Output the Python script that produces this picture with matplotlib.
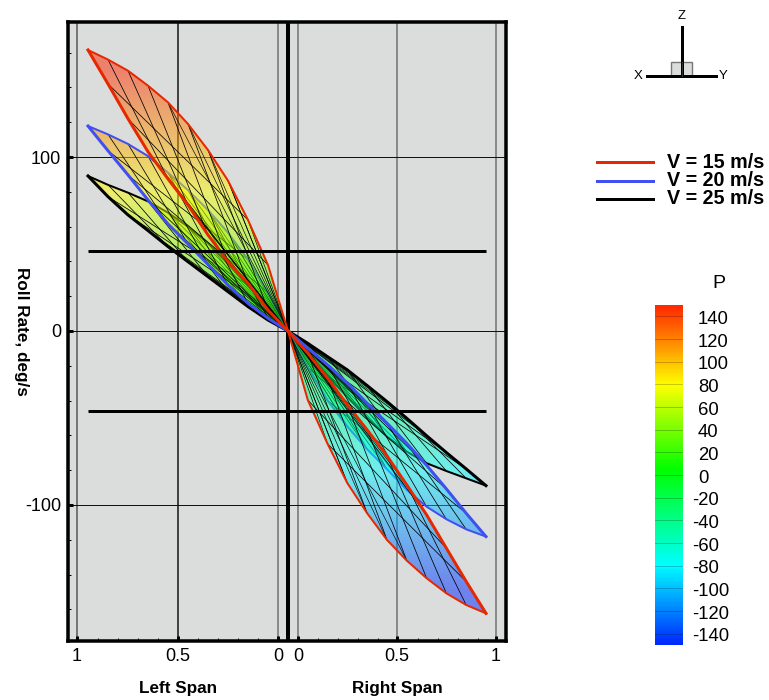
from matplotlib import pyplot as plt
from matplotlib.colors import LinearSegmentedColormap, Normalize
from matplotlib.patches import Polygon, Rectangle
import numpy as np

plt.rcParams['font.family'] = ['Liberation Sans', 'DejaVu Sans']

W, H = 769, 700
PX = 0.72  # one pixel in points at dpi 100

# span stations, outboard to root
left_span = [-1.0, -0.9, -0.8, -0.7, -0.6, -0.5, -0.4, -0.3, -0.2, -0.1, 0.0]
right_span = [0.0, 0.099, 0.198, 0.297, 0.396, 0.495, 0.594, 0.693, 0.792, 0.891, 0.99]

# roll rate along the two edges of each lobe
red_left_outer = [161.5, 156, 149.6, 141, 131.4, 119, 104, 86.4, 63.8, 37.9, 0]
red_left_inner = [161.5, 142, 122, 103, 87.4, 72.4, 55.2, 39.8, 27.4, 12, 0]
blue_left_outer = [117.8, 113, 107.5, 100.5, 91, 81, 69.5, 56.5, 41, 22, 0]
blue_left_inner = [117.8, 103.6, 89.7, 75.3, 61.5, 50, 38.3, 26.4, 15.9, 7.3, 0]
black_left_outer = [89.1, 84, 79.5, 74.5, 68, 60, 50.5, 39, 26.5, 13.5, 0]
black_left_inner = [89.1, 77.2, 66.7, 57.7, 48.5, 39.8, 31.2, 22.6, 14, 6.3, 0]

red_right_outer = [0, -39.7, -64.9, -87.5, -104.8, -120.1, -132, -142.1, -150.8, -157.5, -162.3]
red_right_inner = [0, -12.8, -27.2, -42.5, -56.9, -71.8, -88.5, -105.7, -124.9, -144, -162.3]
blue_right_outer = [0, -21, -40, -55, -68, -79.5, -91.4, -101, -108.2, -114, -118.2]
blue_right_inner = [0, -9.9, -19.5, -30, -41.6, -53, -64.6, -77.2, -90.8, -104.8, -118.2]
black_right_outer = [0, -13, -26, -38, -50, -60.7, -69.4, -76, -80.5, -84.7, -88.9]
black_right_inner = [0, -7.1, -14.8, -22.4, -31.4, -40.6, -50.2, -60.2, -69.9, -79.3, -88.9]

steady_rates = [46, -46]
steady_span = [-1.0, 0.99]

y_ticks = [-100, 0, 100]
y_minor = [-160, -140, -120, -80, -60, -40, -20, 20, 40, 60, 80, 120, 140, 160]
x_ticks = [-1.055, -0.5525, -0.05, 0.05, 0.545, 1.04]
x_labels = ['1', '0.5', '0', '0', '0.5', '1']
x_grid_colors = ['#555555', '#111111', '#707070', '#707070', '#707070', '#707070']

legend_labels = ['V = 15 m/s', 'V = 20 m/s', 'V = 25 m/s']
legend_colors = ['#E62800', '#4050F0', '#000000']
legend_y = [162, 181, 199]

bar_ticks = [140, 120, 100, 80, 60, 40, 20, 0, -20, -40, -60, -80, -100, -120, -140]

# colour scale anchors
cmap_levels = [-150, -80, 5, 80, 150]
cmap_colors = ['#0028FF', '#00FFFF', '#00FF00', '#FFFF00', '#FF2800']
vmin, vmax = -150, 150


def px_axes(fig, x0, y0, x1, y1, **kw): #axes from pixel box, y measured from the top
    return fig.add_axes([x0/W, 1-y1/H, (x1-x0)/W, (y1-y0)/H], **kw)


def draw_lobe(ax, span, outer, inner, color, cmap, norm, shift=3, back=7):
    span = np.array(span)
    outer = np.array(outer, dtype=float)
    inner = np.array(inner, dtype=float)
    n = len(span)
    # the outboard end sits at the other end of the array on the right wing
    if span[-1] > 0:
        span, outer, inner = span[::-1], outer[::-1], inner[::-1]

    # translucent fill, coloured by roll rate only
    low, high = min(outer.min(), inner.min()), max(outer.max(), inner.max())
    im = ax.imshow(np.linspace(high, low, 300)[:, None], aspect='auto', cmap=cmap, norm=norm,
                   alpha=0.5, extent=[span.min(), span.max(), low, high], zorder=3)
    outline = np.column_stack([np.r_[span, span[::-1]], np.r_[outer, inner[::-1]]])
    im.set_clip_path(Polygon(outline, transform=ax.transData))

    for i in range(1, n-shift): #lines running across the lobe
        ax.plot([span[i], span[i+shift]], [outer[i], inner[i+shift]], color='k', lw=0.55, zorder=3)
    for j in range(1, n-back): #lines running along it
        ax.plot([span[j], span[j+back]], [inner[j], outer[j+back]], color='k', lw=0.55, zorder=3)
    for j in range(n-back, n-2): #fan into the root
        ax.plot([span[j], span[-1]], [inner[j], inner[-1]], color='k', lw=0.45, zorder=3)
        ax.plot([span[j], span[-1]], [outer[j], outer[-1]], color='k', lw=0.45, zorder=3)

    ax.plot(span, outer, color=color, lw=2*PX, zorder=3, solid_joinstyle='round')
    ax.plot(span, inner, color=color, lw=3*PX, zorder=3, solid_joinstyle='round')


fig = plt.figure(figsize=(W/100, H/100), dpi=100)
stops = [(l-vmin)/(vmax-vmin) for l in cmap_levels]
cmap = LinearSegmentedColormap.from_list('p_map', list(zip(stops, cmap_colors)))
norm = Normalize(vmin, vmax)

###### Main plot ########
ax = px_axes(fig, 68, 22, 506, 641, facecolor='#DBDCDC')

for xt, c in zip(x_ticks, x_grid_colors):
    ax.axvline(xt, color=c, lw=1.5*PX, zorder=1)
for yt in y_ticks:
    ax.axhline(yt, color='#111111', lw=1*PX, zorder=1)
ax.axvline(0, color='k', lw=4*PX, zorder=2)

draw_lobe(ax, left_span, black_left_outer, black_left_inner, 'k', cmap, norm)
draw_lobe(ax, right_span, black_right_outer, black_right_inner, 'k', cmap, norm)
draw_lobe(ax, left_span, blue_left_outer, blue_left_inner, legend_colors[1], cmap, norm)
draw_lobe(ax, right_span, blue_right_outer, blue_right_inner, legend_colors[1], cmap, norm)
draw_lobe(ax, left_span, red_left_outer, red_left_inner, legend_colors[0], cmap, norm)
draw_lobe(ax, right_span, red_right_outer, red_right_inner, legend_colors[0], cmap, norm)

for rate in steady_rates:
    ax.plot(steady_span, [rate, rate], color='k', lw=3*PX, zorder=4, solid_capstyle='butt')

# imshow resets the limits, so these come after the lobes
ax.set_xlim(-1.1, 1.09)
ax.set_ylim(-178.2, 177.6)

for s in ax.spines.values():
    s.set_linewidth(3.5*PX)
ax.set_xticks(x_ticks)
ax.set_xticklabels(x_labels, fontsize=13)
ax.set_xticks(np.concatenate([np.arange(-0.95, -0.05, 0.1), np.arange(0.15, 1.0, 0.1)]), minor=True)
ax.set_yticks(y_ticks)
ax.set_yticklabels([str(t) for t in y_ticks], fontsize=13)
ax.set_yticks(y_minor, minor=True)
ax.tick_params(which='major', direction='in', length=5*PX, width=3*PX, pad=5)
ax.tick_params(which='minor', direction='in', length=3*PX, width=1*PX)

fig.text(178/W, 1-688/H, 'Left Span', fontsize=12.3, fontweight='bold', ha='center', va='center')
fig.text(397/W, 1-688/H, 'Right Span', fontsize=12.3, fontweight='bold', ha='center', va='center')
fig.text(21/W, 1-331/H, 'Roll Rate, deg/s', fontsize=12.3, fontweight='bold', rotation=270,
         ha='center', va='center')

###### Legend ########
for label, color, y in zip(legend_labels, legend_colors, legend_y):
    fig.add_artist(plt.Line2D([597/W, 653/W], [1-y/H, 1-y/H], color=color, lw=3*PX))
    fig.text(667/W, 1-y/H, label, fontsize=14.2, fontweight='bold', ha='left', va='center')

###### Axis triad ########
fig.add_artist(plt.Line2D([682/W, 682/W], [1-27/H, 1-76/H], color='k', lw=3*PX))
fig.add_artist(plt.Line2D([647/W, 716/W], [1-76/H, 1-76/H], color='k', lw=3*PX))
fig.add_artist(Rectangle((671/W, 1-76/H), 21/W, 14/H, transform=fig.transFigure,
                         facecolor='#DBDCDC', edgecolor='#777777', lw=1))
fig.add_artist(plt.Line2D([682/W, 682/W], [1-62/H, 1-76/H], color='#333333', lw=0.7))
fig.text(682/W, 1-16/H, 'Z', fontsize=9.5, ha='center', va='center')
fig.text(638.5/W, 1-76/H, 'X', fontsize=9.5, ha='center', va='center')
fig.text(723/W, 1-76/H, 'Y', fontsize=9.5, ha='center', va='center')

###### Colour bar ########
cax = px_axes(fig, 655, 305, 683, 645)
cax.imshow(np.linspace(vmax, vmin, 340)[:, None], aspect='auto', cmap=cmap, norm=norm,
           extent=[0, 1, vmin, vmax])
for t in bar_ticks:
    cax.axhline(t, color='k', lw=0.5, alpha=0.3)
    # minus signs hang to the left of the digits, labels sit a little under their line
    left = 692 if t < 0 else 698
    cax.text((left-655)/28, t-1, str(t), transform=cax.get_yaxis_transform(), fontsize=13.3,
             ha='left', va='center_baseline', clip_on=False)
cax.set_xticks([])
cax.set_yticks([])
for s in cax.spines.values():
    s.set_visible(False)
fig.text(719/W, 1-284/H, 'P', fontsize=14, ha='center', va='center')

fig.savefig('out.png', dpi=100)
